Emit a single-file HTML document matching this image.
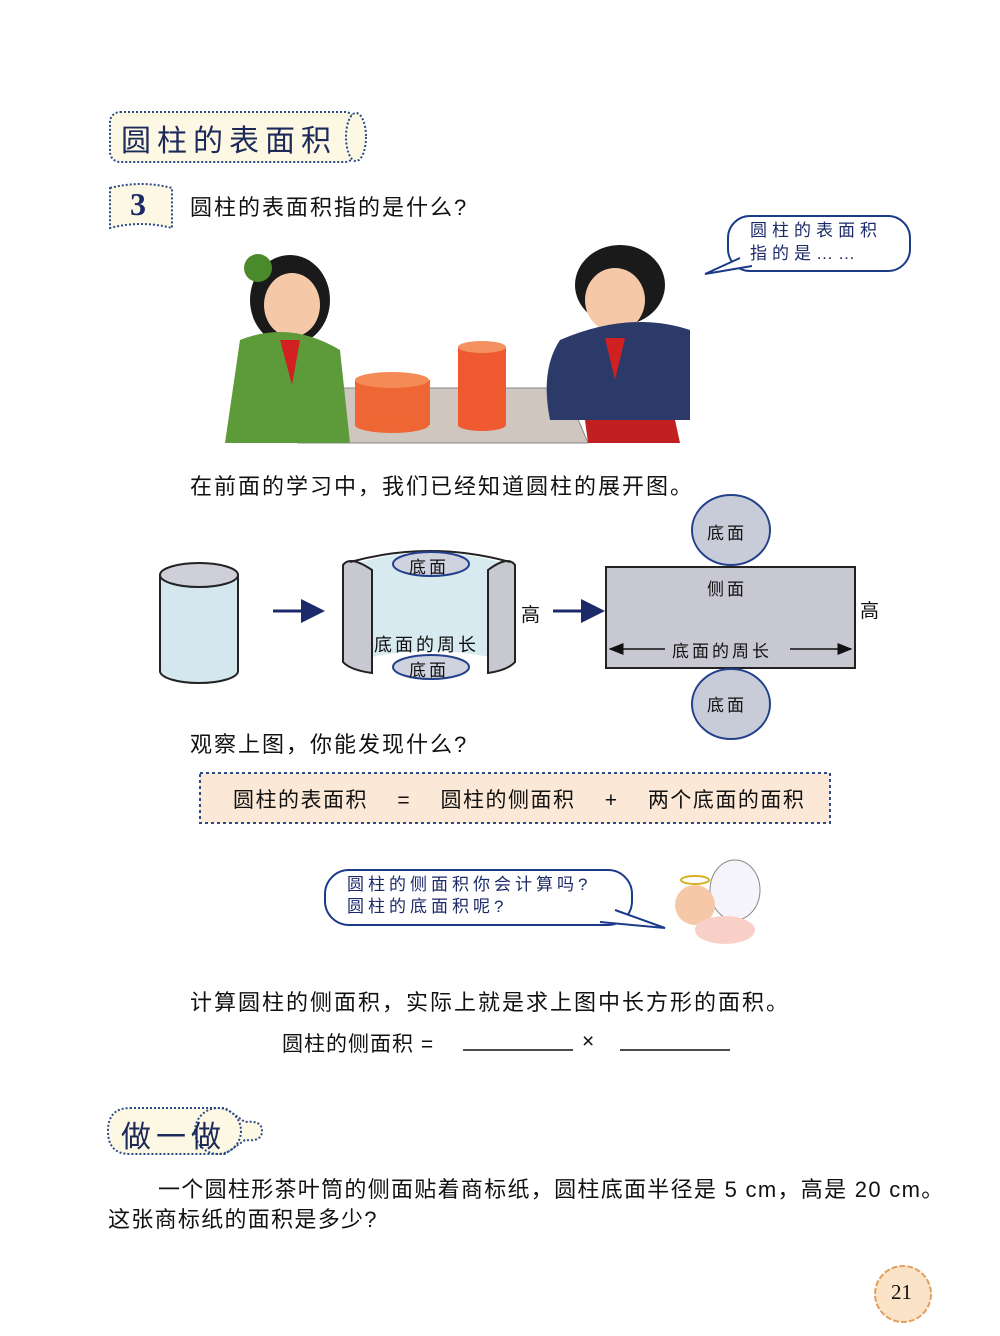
<!DOCTYPE html>
<html><head><meta charset="utf-8"><style>
body{margin:0;background:#fff;}
#p{position:relative;width:1000px;height:1336px;overflow:hidden;font-family:"Liberation Sans","Noto Sans CJK SC",sans-serif;color:#111;}
.t{position:absolute;white-space:nowrap;}
</style></head><body><div id="p">
<svg width="1000" height="1336" style="position:absolute;left:0;top:0">
<rect x="110" y="112" width="245" height="50" rx="10" fill="#fdf8e4" stroke="#2b4a8a" stroke-width="2" stroke-dasharray="2,2"/>
<ellipse cx="356" cy="137" rx="10" ry="24" fill="#fdf8e4" stroke="#2b4a8a" stroke-width="2" stroke-dasharray="2,2"/>
<path d="M110 188 Q141 180 172 188 L172 228 Q141 220 110 228 Z" fill="#fdf8e4" stroke="#2b4a8a" stroke-width="2" stroke-dasharray="2,2"/>
<rect x="728" y="216" width="182" height="55" rx="22" fill="#fff" stroke="#1c3a8a" stroke-width="2"/>
<path d="M740 258 L705 274 L752 266" fill="#fff" stroke="#1c3a8a" stroke-width="2"/>
<polygon points="320,388 565,388 588,443 298,443" fill="#cfc6c0" stroke="#888"/>
<ellipse cx="290" cy="300" rx="40" ry="45" fill="#1a1a1a"/>
<ellipse cx="292" cy="305" rx="28" ry="32" fill="#f5c9a8"/>
<circle cx="258" cy="268" r="14" fill="#4a8a2a"/>
<path d="M240 340 Q290 320 340 350 L350 443 L225 443 Z" fill="#5c9a3a"/>
<path d="M280 340 L300 340 L292 385 Z" fill="#d02020"/>
<ellipse cx="620" cy="285" rx="45" ry="40" fill="#1a1a1a"/>
<ellipse cx="615" cy="300" rx="30" ry="32" fill="#f5c9a8"/>
<path d="M560 340 Q630 310 690 330 L690 420 L550 420 Q540 370 560 340 Z" fill="#2c3a6a"/>
<path d="M585 420 L675 420 L680 443 L588 443 Z" fill="#c02020"/>
<path d="M605 338 L625 338 L615 380 Z" fill="#d02020"/>
<rect x="355" y="380" width="75" height="45" fill="#ee6633"/>
<ellipse cx="392" cy="380" rx="37" ry="8" fill="#f48a55"/>
<ellipse cx="392" cy="425" rx="37" ry="8" fill="#ee6633"/>
<rect x="458" y="347" width="48" height="78" fill="#f05a30"/>
<ellipse cx="482" cy="347" rx="24" ry="6" fill="#f59060"/>
<ellipse cx="482" cy="425" rx="24" ry="6" fill="#f05a30"/>
<path d="M160 575 L160 671 A39 12 0 0 0 238 671 L238 575 Z" fill="#d4e6ee" stroke="#222" stroke-width="2"/>
<ellipse cx="199" cy="575" rx="39" ry="12" fill="#cfcfda" stroke="#222" stroke-width="2"/>
<defs><marker id="a" markerWidth="8" markerHeight="8" refX="7" refY="4" orient="auto"><path d="M0 0 L8 4 L0 8 Z" fill="#1c2a6a"/></marker>
<marker id="b" markerWidth="10" markerHeight="8" refX="9" refY="4" orient="auto"><path d="M0 0 L10 4 L0 8 Z" fill="#111"/></marker></defs>
<line x1="273" y1="611" x2="322" y2="611" stroke="#1c2a6a" stroke-width="3" marker-end="url(#a)"/>
<line x1="553" y1="611" x2="602" y2="611" stroke="#1c2a6a" stroke-width="3" marker-end="url(#a)"/>
<path d="M350 565 Q430 540 510 565 L510 662 Q430 640 350 662 Z" fill="#d6eaf0"/>
<path d="M343 565 Q350 555 372 570 L372 673 Q350 670 343 662 Z" fill="#c8c8d0" stroke="#222" stroke-width="2"/>
<path d="M515 565 Q508 555 488 570 L488 673 Q508 670 515 662 Z" fill="#c8c8d0" stroke="#222" stroke-width="2"/>
<path d="M350 562 Q430 540 510 562" fill="none" stroke="#222" stroke-width="2"/>
<ellipse cx="431" cy="564" rx="38" ry="12" fill="#cfd3e0" stroke="#23418a" stroke-width="2"/>
<ellipse cx="431" cy="667" rx="38" ry="12" fill="#cfd3e0" stroke="#23418a" stroke-width="2"/>
<rect x="606" y="567" width="249" height="101" fill="#c8c8d2" stroke="#222" stroke-width="2"/>
<ellipse cx="731" cy="530" rx="39" ry="35" fill="#c8cbd8" stroke="#23418a" stroke-width="2"/>
<ellipse cx="731" cy="704" rx="39" ry="35" fill="#c8cbd8" stroke="#23418a" stroke-width="2"/>
<line x1="665" y1="649" x2="610" y2="649" stroke="#111" stroke-width="1.5" marker-end="url(#b)"/>
<line x1="790" y1="649" x2="851" y2="649" stroke="#111" stroke-width="1.5" marker-end="url(#b)"/>
<rect x="200" y="773" width="630" height="50" fill="#fbe8d6" stroke="#2b4a8a" stroke-width="2" stroke-dasharray="3,3"/>
<rect x="325" y="870" width="307" height="55" rx="24" fill="#fff" stroke="#1c3a8a" stroke-width="2"/>
<path d="M615 910 L665 928 L600 922" fill="#fff" stroke="#1c3a8a" stroke-width="2"/>
<ellipse cx="735" cy="890" rx="25" ry="30" fill="#f4f4fa" stroke="#888"/>
<circle cx="695" cy="905" r="20" fill="#f5c9a8"/>
<ellipse cx="695" cy="880" rx="14" ry="4" fill="none" stroke="#d8b020" stroke-width="2"/>
<ellipse cx="725" cy="930" rx="30" ry="14" fill="#f8d0c8"/>
<line x1="463" y1="1050" x2="573" y2="1050" stroke="#111" stroke-width="1.5"/>
<line x1="620" y1="1050" x2="730" y2="1050" stroke="#111" stroke-width="1.5"/>
<path d="M130 1108 L225 1108 L245 1122 Q262 1120 262 1131 Q262 1142 245 1140 L225 1154 L130 1154 Q108 1154 108 1131 Q108 1108 130 1108 Z" fill="#fdf8e4" stroke="#2b4a8a" stroke-width="2" stroke-dasharray="2,2"/>
<ellipse cx="218" cy="1131" rx="23" ry="23" fill="none" stroke="#2b4a8a" stroke-width="2" stroke-dasharray="2,2"/>
<circle cx="903" cy="1294" r="28" fill="#fbe3c8" stroke="#e0a060" stroke-width="2" stroke-dasharray="6,2"/>
</svg>
<div class="t" style="left:121px;top:116px;font-size:30px;color:#1c2a5a;letter-spacing:6px">圆柱的表面积</div>
<div class="t" style="left:130px;top:186px;font-size:32px;font-weight:bold;color:#1c2a6a;font-family:'Liberation Serif',serif">3</div>
<div class="t" style="left:190px;top:190px;font-size:22px;letter-spacing:2px">圆柱的表面积指的是什么?</div>
<div class="t" style="left:750px;top:219px;font-size:17px;line-height:23px;color:#1c2a6a;letter-spacing:5px">圆柱的表面积<br>指的是……</div>
<div class="t" style="left:190px;top:469px;font-size:22px;letter-spacing:2px">在前面的学习中，我们已经知道圆柱的展开图。</div>
<div class="t" style="left:409px;top:553px;font-size:17px;letter-spacing:3px">底面</div>
<div class="t" style="left:409px;top:656px;font-size:17px;letter-spacing:3px">底面</div>
<div class="t" style="left:374px;top:631px;font-size:18px;letter-spacing:3px">底面的周长</div>
<div class="t" style="left:521px;top:600px;font-size:19px">高</div>
<div class="t" style="left:707px;top:519px;font-size:17px;letter-spacing:3px">底面</div>
<div class="t" style="left:707px;top:691px;font-size:17px;letter-spacing:3px">底面</div>
<div class="t" style="left:707px;top:575px;font-size:17px;letter-spacing:3px">侧面</div>
<div class="t" style="left:672px;top:637px;font-size:17px;letter-spacing:3px">底面的周长</div>
<div class="t" style="left:860px;top:596px;font-size:19px">高</div>
<div class="t" style="left:190px;top:727px;font-size:22px;letter-spacing:2px">观察上图，你能发现什么?</div>
<div class="t" style="left:233px;top:784px;font-size:21px;white-space:pre;letter-spacing:1.5px">圆柱的表面积    =    圆柱的侧面积    +    两个底面的面积</div>
<div class="t" style="left:347px;top:874px;font-size:17px;line-height:22px;color:#1c2a6a;letter-spacing:4px">圆柱的侧面积你会计算吗?<br>圆柱的底面积呢?</div>
<div class="t" style="left:190px;top:985px;font-size:22px;letter-spacing:2px">计算圆柱的侧面积，实际上就是求上图中长方形的面积。</div>
<div class="t" style="left:282px;top:1028px;font-size:21px;letter-spacing:1px">圆柱的侧面积 =</div>
<div class="t" style="left:582px;top:1030px;font-size:21px">×</div>
<div class="t" style="left:121px;top:1112px;font-size:30px;color:#1c2a5a;letter-spacing:5px">做一做</div>
<div class="t" style="left:158px;top:1172px;font-size:22px;letter-spacing:1.3px">一个圆柱形茶叶筒的侧面贴着商标纸，圆柱底面半径是 5 cm，高是 20 cm。</div>
<div class="t" style="left:108px;top:1202px;font-size:22px;letter-spacing:1.3px">这张商标纸的面积是多少?</div>
<div class="t" style="left:891px;top:1280px;font-size:21px;font-family:'Liberation Serif',serif">21</div>
</div></body></html>
